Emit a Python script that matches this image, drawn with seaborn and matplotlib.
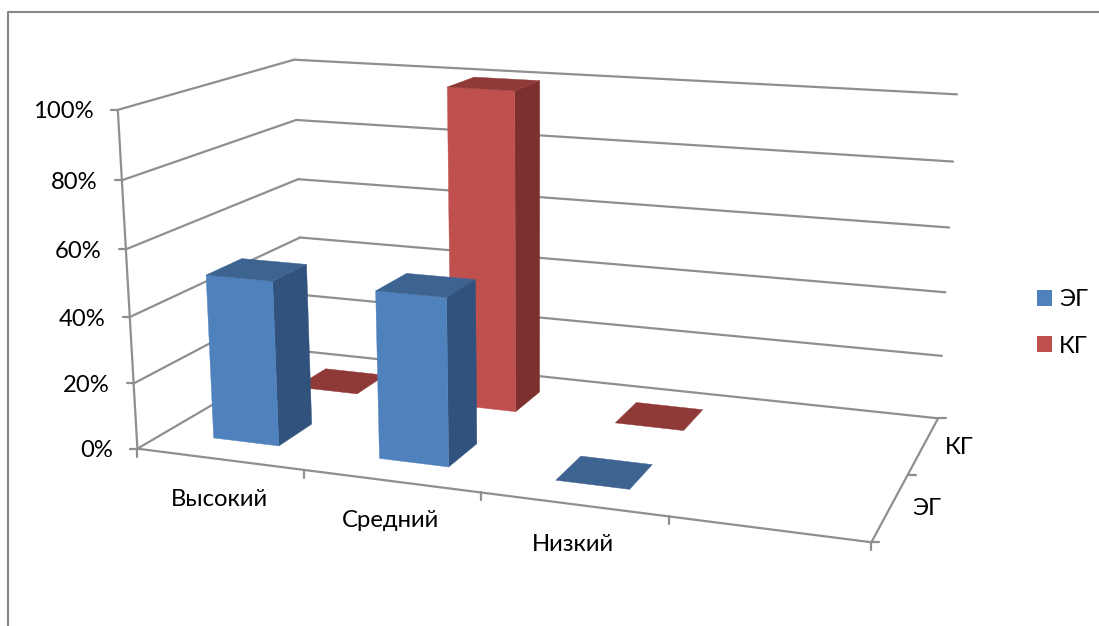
import numpy as np
import matplotlib
matplotlib.use("Agg")
import matplotlib.pyplot as plt
from matplotlib.patches import Patch
import seaborn as sns

# Chart data (percent)
categories = ["Высокий", "Средний", "Низкий", ""]
series_names = ["ЭГ", "КГ"]
eg_values = [50, 50, 0, None]
kg_values = [0, 100, 0, None]
value_ticks = [0, 20, 40, 60, 80, 100]

sns.set_theme(style="white")
plt.rcParams["font.family"] = ["Lato", "Open Sans", "DejaVu Sans"]

# Colour per series: front, top and side faces
front = sns.color_palette(["#4F81BD", "#C0504D"])
top = sns.color_palette(["#3D6391", "#8F3A38"])
side = sns.color_palette(["#30527C", "#7B302E"])
GRID = "#8F8F8F"
FRAME = "#888888"
LABEL_SIZE = 17.2
BAR_GAP = 0.3  # gap on each side of a bar, in category units

# Perspective camera: pairs of (category, depth, value fraction) and canvas position
anchors = [
    ((0, 0, 0), (138, 447)), ((4, 0, 0), (872, 542)),
    ((0, 2, 0), (304, 352)), ((4, 2, 0), (938, 418)),
    ((0, 0, 1), (118, 110)), ((0, 2, 1), (294, 59)),
    ((4, 2, 1), (957, 95)), ((1, 0, 0), (303, 472)),
    ((2, 0, 0), (480, 492)), ((3, 0, 0), (669, 517)),
    ((4, 1, 0), (908, 474)),
]
rows = []
for (a, b, c), (px, py) in anchors:
    rows.append([a, b, c, 1, 0, 0, 0, 0, -px * a, -px * b, -px * c, -px])
    rows.append([0, 0, 0, 0, a, b, c, 1, -py * a, -py * b, -py * c, -py])
camera = np.linalg.svd(np.array(rows, float))[2][-1].reshape(3, 4)


def project(u, v, w):
    h = camera @ np.array([u, v, w, 1.0])
    return h[0] / h[2], h[1] / h[2]


fig = plt.figure(figsize=(10.99, 6.26), dpi=100, facecolor="white")
ax = fig.add_axes([0, 0, 1, 1])
ax.set_xlim(0, 1099)
ax.set_ylim(626, 0)
ax.axis("off")

# Outer chart frame: left and top edges
ax.plot([8, 8, 1099], [626, 12, 12], color=FRAME, lw=1.5, zorder=1)


def seg(p, q, **kw):
    ax.plot([p[0], q[0]], [p[1], q[1]], color=GRID, lw=1.6,
            solid_capstyle="round", zorder=2, **kw)


n_cat = len(categories)
n_ser = len(series_names)

# Walls: one polyline per value tick across the side and back walls
for t in value_ticks:
    w = t / 100
    a, b, c = project(0, 0, w), project(0, n_ser, w), project(n_cat, n_ser, w)
    seg(a, b)
    seg(b, c)
    seg((a[0] - 7, a[1]), a)
    ax.text(a[0] - 24, a[1] + 2, f"{t}%", ha="right", va="center",
            fontsize=LABEL_SIZE, color="black")

# Axis lines along the front edges
seg(project(0, 0, 0), project(0, 0, 1))
seg(project(0, 0, 0), project(n_cat, 0, 0))
seg(project(n_cat, 0, 0), project(n_cat, n_ser, 0))

# Category ticks and labels
for i in range(n_cat + 1):
    p = project(i, 0, 0)
    seg(p, (p[0], p[1] + 8))
for i, name in enumerate(categories):
    p = project(i + 0.5, 0, 0)
    ax.text(p[0], p[1] + 40, name, ha="center", va="center",
            fontsize=LABEL_SIZE, color="black")

# Series ticks and labels along the depth edge
for j in range(n_ser + 1):
    p = project(n_cat, j, 0)
    seg(p, (p[0] + 8, p[1]))
for j, name in enumerate(series_names):
    p = project(n_cat, j + 0.5, 0)
    ax.text(p[0] + 36, p[1] + 2, name, ha="center", va="center",
            fontsize=LABEL_SIZE, color="black")


def face(points, color, z):
    xy = [project(*pt) for pt in points]
    ax.fill(*zip(*xy), facecolor=color, edgecolor=color, lw=0.3, zorder=z)


def draw_bar(i, j, value, z):
    u0, u1 = i + BAR_GAP, i + 1 - BAR_GAP
    v0, v1 = j + BAR_GAP, j + 1 - BAR_GAP
    w = value / 100
    if w > 0:
        face([(u1, v0, 0), (u1, v1, 0), (u1, v1, w), (u1, v0, w)], side[j], z)
        face([(u0, v0, 0), (u1, v0, 0), (u1, v0, w), (u0, v0, w)], front[j], z + 0.1)
    face([(u0, v0, w), (u1, v0, w), (u1, v1, w), (u0, v1, w)], top[j], z + 0.2)


# Painter's order: back row first, left to right
for j, values in reversed(list(enumerate([eg_values, kg_values]))):
    for i, value in enumerate(values):
        if value is not None:
            draw_bar(i, j, value, z=3 + (n_ser - j) * 10 + i)

handles = [Patch(facecolor=front[j], edgecolor="none", label=series_names[j])
           for j in range(n_ser)]
ax.legend(handles=handles, loc="center left", bbox_to_anchor=(1037 / 1099, 1 - 323 / 626),
          frameon=False, fontsize=LABEL_SIZE, handlelength=0.62, handleheight=0.62,
          handletextpad=0.3, labelspacing=1.05, borderpad=0, borderaxespad=0,
          labelcolor="black")

fig.savefig("out.png", dpi=100)
